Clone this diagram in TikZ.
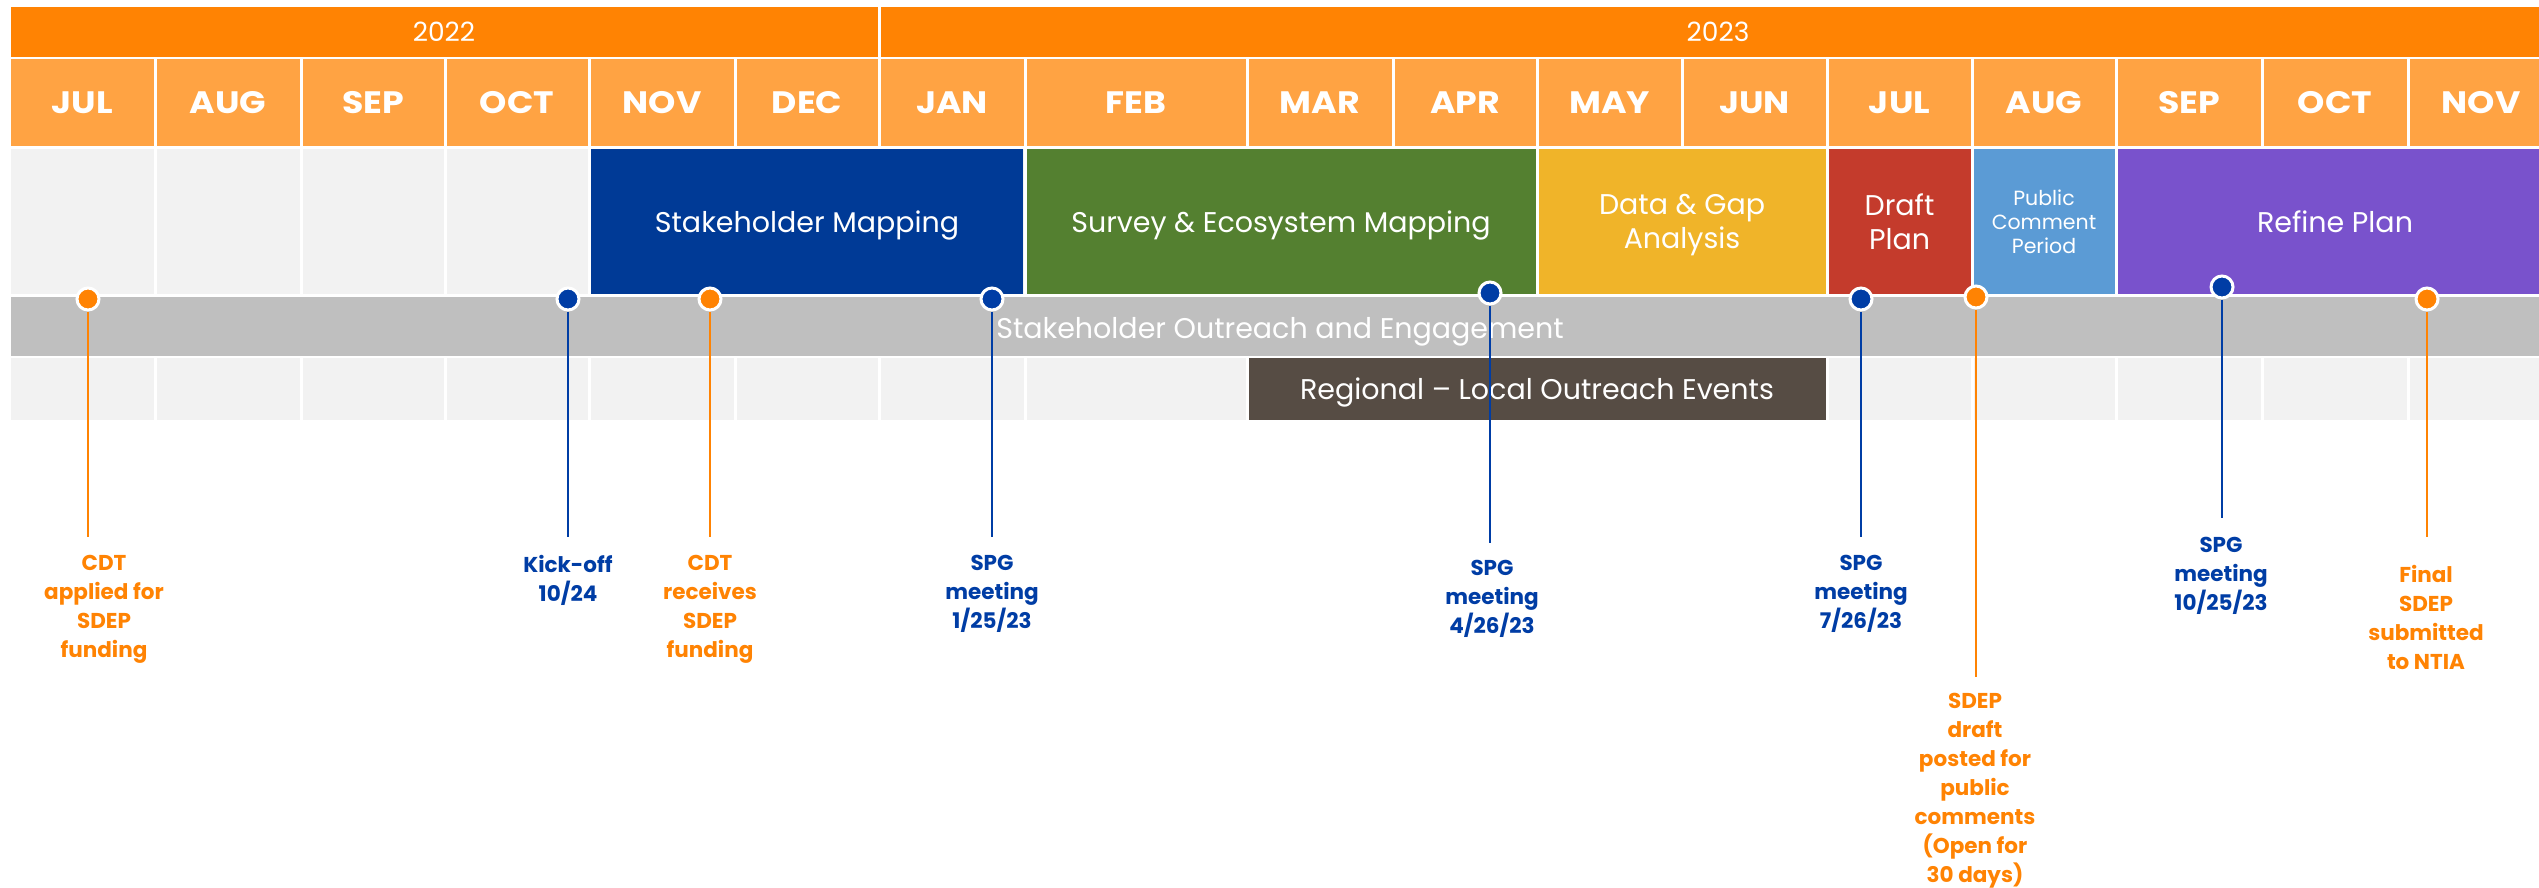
\documentclass[tikz,border=0pt]{standalone}
\usepackage{fontspec}
\setmainfont{Poppins}
\newfontfamily\monthfont{Poppins}[FakeStretch=1.12]
\definecolor{yearorange}{HTML}{FF8303}
\definecolor{monthorange}{HTML}{FFA343}
\definecolor{cellgrey}{HTML}{F2F2F2}
\definecolor{bandgrey}{HTML}{BFBFBF}
\definecolor{cStake}{HTML}{003A96}
\definecolor{cSurvey}{HTML}{548030}
\definecolor{cData}{HTML}{F0B429}
\definecolor{cDraft}{HTML}{C43B2C}
\definecolor{cPublic}{HTML}{5B9BD5}
\definecolor{cRefine}{HTML}{7952CC}
\definecolor{cRegional}{HTML}{564C44}
\definecolor{mblue}{HTML}{003DA5}
\definecolor{morange}{HTML}{FF8303}
\tikzset{
  cellbox/.style={inner sep=0pt, outer sep=0pt, text=white, align=center},
  yearcell/.style={cellbox, fill=yearorange, minimum height=50pt, font=\fontsize{26.5}{30}\selectfont},
  monthcell/.style={cellbox, fill=monthorange, minimum height=87pt, font=\monthfont\bfseries\fontsize{31}{36}\selectfont},
  actbox/.style={cellbox, text depth=0pt, minimum height=145pt, font=\fontsize{28.5}{34}\selectfont},
  mk/.style={circle, draw=white, line width=3pt, minimum size=22pt, inner sep=0pt},
  mline/.style={line width=2.6pt},
  lbl/.style={anchor=north, align=center, inner sep=0pt, font=\bfseries\fontsize{21.5}{29}\selectfont},
}
\begin{document}
\begin{tikzpicture}[x=1pt,y=-1pt]
\clip (0,0) rectangle (2539,887);
\fill[white] (0,0) rectangle (2539,887);
% years
\node[yearcell, minimum width=867pt] (y2022) at (444,32) {2022};
\node[yearcell, minimum width=1674pt] (y2023) at (1718,32) {2023};
% months and grey cells
\foreach \a/\b/\m [count=\i] in {9.5/155/JUL,155/301/AUG,301/445/SEP,445/589/OCT,589/735/NOV,735/879/DEC,879/1025/JAN,1025/1247/FEB,1247/1393/MAR,1393/1537/APR,1537/1682/MAY,1682/1827/JUN,1827/1972/JUL,1972/2116/AUG,2116/2262/SEP,2262/2408/OCT,2408/2554/NOV}{
  \node[monthcell, minimum width={\b-\a-3}] (m\i) at ({(\a+\b)/2},102.5) {\m};
  \fill[cellgrey] (\a+1.5,149) rectangle (\b-1.5,294);
  \fill[cellgrey] (\a+1.5,358) rectangle (\b-1.5,420);
}
% activities
\node[actbox, fill=cStake, minimum width=432pt] (smap) at (807,221.5) {Stakeholder Mapping};
\node[actbox, fill=cSurvey, minimum width=509pt] (survey) at (1281,221.5) {Survey \& Ecosystem Mapping};
\node[actbox, fill=cData, minimum width=287pt] (data) at (1682,221.5) {Data \& Gap\\Analysis};
\node[actbox, fill=cDraft, minimum width=142pt] (draft) at (1899.5,221.5) {Draft\\Plan};
\node[actbox, fill=cPublic, minimum width=141pt, font=\fontsize{20.5}{24}\selectfont] (public) at (2044,221.5) {Public\\Comment\\Period};
\node[actbox, fill=cRefine, minimum width=435pt] (refine) at (2335,221.5) {Refine Plan};
% band
\node[cellbox, fill=bandgrey, minimum width=2543pt, minimum height=59pt] (band) at (1282.5,326.5) {};
\node[cellbox, text depth=0pt, font=\fontsize{28.5}{34}\selectfont] (bandtxt) at (1280,328) {Stakeholder Outreach and Engagement};
% regional
\node[cellbox, text depth=0pt, fill=cRegional, minimum width=577pt, minimum height=62pt, font=\fontsize{28.5}{34}\selectfont] (regional) at (1537,389) {Regional – Local Outreach Events};
% markers
\foreach \n/\x/\y/\e/\c in {apply/88/299/537/morange, kick/568/299/537/mblue, receive/710/299/537/morange, spga/992/299/537/mblue, spgb/1490/293/543/mblue, spgc/1861/299/537/mblue, draftpost/1976/297/677/morange, spgd/2222/287/518/mblue, final/2427/299/537/morange}{
  \coordinate (\n E) at (\x,\e);
  \node[mk, fill=\c] (\n) at (\x,\y) {};
  \draw[mline, draw=\c] (\n) -- (\n E);
}
% labels
\node[lbl, text=morange] (applyT) at (104,555) {CDT\\applied for\\SDEP\\funding};
\node[lbl, text=mblue] (kickT) at (568,555) {Kick-off\\10/24};
\node[lbl, text=morange] (receiveT) at (710,555) {CDT\\receives\\SDEP\\funding};
\node[lbl, text=mblue] (spgaT) at (992,555) {SPG\\meeting\\1/25/23};
\node[lbl, text=mblue] (spgbT) at (1492,560) {SPG\\meeting\\4/26/23};
\node[lbl, text=mblue] (spgcT) at (1861,555) {SPG\\meeting\\7/26/23};
\node[lbl, text=morange] (draftpostT) at (1975,693) {SDEP\\draft\\posted for\\public\\comments\\(Open for\\30 days)};
\node[lbl, text=mblue] (spgdT) at (2221,537) {SPG\\meeting\\10/25/23};
\node[lbl, text=morange] (finalT) at (2426,565) {Final\\SDEP\\submitted\\to NTIA};
\end{tikzpicture}
\end{document}
